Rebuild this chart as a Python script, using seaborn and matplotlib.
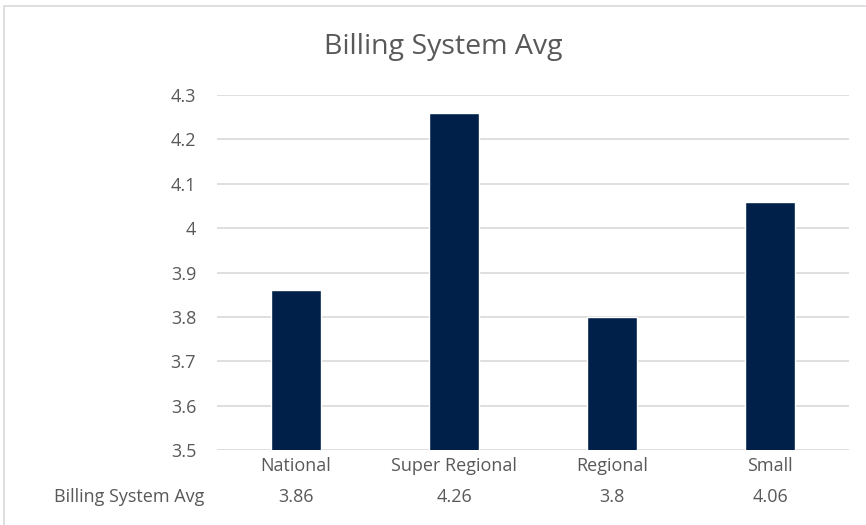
import matplotlib
matplotlib.use("Agg")
import matplotlib.pyplot as plt
import matplotlib.transforms as mtransforms
from matplotlib.patches import Rectangle
import seaborn as sns
import pandas as pd

categories = ["National", "Super Regional", "Regional", "Small"]
values = [3.86, 4.26, 3.8, 4.06]
series_name = "Billing System Avg"
title = "Billing System Avg"
y_ticks = [3.5, 3.6, 3.7, 3.8, 3.9, 4.0, 4.1, 4.2, 4.3]
y_tick_labels = ["3.5", "3.6", "3.7", "3.8", "3.9", "4", "4.1", "4.2", "4.3"]

sns.set_theme(style="white")
plt.rcParams["font.family"] = ["Open Sans", "DejaVu Sans"]

text_color = "#595959"
grid_color = "#d9d9d9"
bar_color = "#00204a"
fs = 13

df = pd.DataFrame({"category": categories, "value": values})

fig = plt.figure(figsize=(8.66, 5.25), dpi=100)
fig.patch.set_facecolor("white")

# chart-area outline
fig.add_artist(Rectangle((3.5 / 866, -0.01), 1.0, 1 - 6 / 525 + 0.01,
                         transform=fig.transFigure, fill=False,
                         edgecolor=grid_color, linewidth=1.2))

ax = fig.add_axes([217 / 866, 1 - 450 / 525, 632 / 866, 355 / 525])
sns.barplot(data=df, x="category", y="value", color=bar_color,
            width=0.32, saturation=1, ax=ax, zorder=3)

ax.set_ylim(3.5, 4.3)
ax.set_xlim(-0.5, len(categories) - 0.5)
ax.set_yticks(y_ticks)
ax.set_yticklabels(y_tick_labels)
ax.yaxis.grid(True, color=grid_color, linewidth=1.2, zorder=0)
ax.set_axisbelow(True)
for s in ax.spines.values():
    s.set_visible(False)
ax.tick_params(axis="y", length=0, pad=15, labelsize=fs, labelcolor=text_color)
ax.tick_params(axis="x", length=0, pad=5, labelsize=fs, labelcolor=text_color)
ax.set_xlabel("")
ax.set_ylabel("")

fig.text(443 / 866, 1 - 47 / 525, title, ha="center", va="center",
         fontsize=20.5, color=text_color)

# data table row below the category labels
trans = mtransforms.blended_transform_factory(ax.transData, fig.transFigure)
row_y = 1 - 497 / 525
for i, v in enumerate(values):
    ax.text(i, row_y, f"{v:g}", transform=trans, ha="center", va="center",
            fontsize=fs, color=text_color)
fig.text(129 / 866, row_y, series_name, ha="center", va="center",
         fontsize=fs, color=text_color)

fig.savefig("out.png", dpi=100)
